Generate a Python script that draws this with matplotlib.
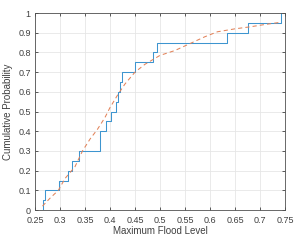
import numpy as np
import matplotlib.pyplot as plt

# sample maximum flood levels
flood_levels = [0.2667, 0.2707, 0.2987, 0.3167, 0.3250, 0.3387, 0.3800, 0.3800,
                0.3930, 0.4030, 0.4130, 0.4167, 0.4200, 0.4247, 0.4500, 0.4853,
                0.4950, 0.6347, 0.6753, 0.7413]

# fitted CDF (dashed curve)
fit_x = [0.265, 0.28, 0.2967, 0.31, 0.33, 0.345, 0.36, 0.375, 0.39, 0.40,
         0.4167, 0.43, 0.45, 0.47, 0.4833, 0.50, 0.53, 0.56, 0.59, 0.615,
         0.65, 0.68, 0.71, 0.741]
fit_p = [0.02, 0.06, 0.10, 0.16, 0.22, 0.30, 0.36, 0.41, 0.47, 0.52,
         0.59, 0.64, 0.70, 0.74, 0.76, 0.785, 0.81, 0.845, 0.88, 0.905,
         0.92, 0.93, 0.942, 0.953]

x_ticks = [0.25, 0.3, 0.35, 0.4, 0.45, 0.5, 0.55, 0.6, 0.65, 0.7, 0.75]
y_ticks = [0, 0.1, 0.2, 0.3, 0.4, 0.5, 0.6, 0.7, 0.8, 0.9, 1]

plt.rcParams['font.family'] = ['Liberation Sans', 'DejaVu Sans']

fig = plt.figure(figsize=(2.99, 2.42), dpi=100)
ax = fig.add_axes([0.117, 0.132, 0.836, 0.814])

xs = np.sort(np.array(flood_levels))
ys = np.arange(1, len(xs) + 1) / len(xs)
ax.step(np.r_[xs[0], xs], np.r_[0, ys], where='post', color='#3d95cf', lw=0.75)
ax.plot(fit_x, fit_p, color='#e2835a', lw=0.75, ls=(0, (4, 3)))

ax.set_xlim(0.25, 0.75)
ax.set_ylim(0, 1)
ax.set_xticks(x_ticks)
ax.set_xticklabels(['{:g}'.format(t) for t in x_ticks])
ax.set_yticks(y_ticks)
ax.set_yticklabels(['{:g}'.format(t) for t in y_ticks])
ax.grid(True, color='#e6e6e6', lw=0.6)
ax.set_axisbelow(True)
ax.tick_params(direction='in', length=2.5, width=0.6, labelsize=6.5,
               colors='#404040', top=True, right=True)
ax.tick_params(axis='x', pad=4)
ax.tick_params(axis='y', pad=3)
for s in ax.spines.values():
    s.set_color('#505050')
    s.set_linewidth(0.6)

ax.set_xlabel('Maximum Flood Level', fontsize=7, color='#404040', labelpad=1)
ax.set_ylabel('Cumulative Probability', fontsize=7, color='#404040', labelpad=4)

fig.savefig('out.png', dpi=100)
